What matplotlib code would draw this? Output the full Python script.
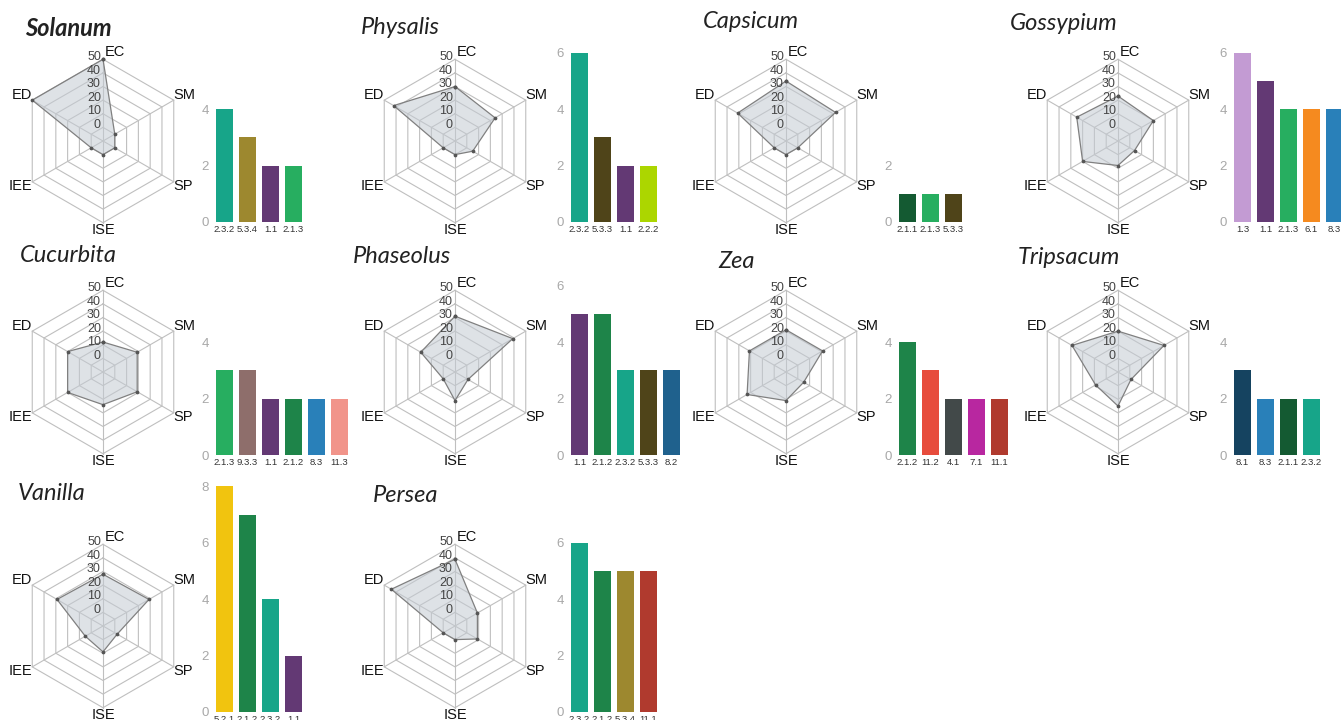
import matplotlib
matplotlib.use('Agg')
import matplotlib.pyplot as plt
import numpy as np

plt.rcParams['font.family'] = ['Liberation Sans', 'DejaVu Sans']

W, H = 1341, 720

# radar axes, clockwise from the top
spokes = ['EC', 'SM', 'SP', 'ISE', 'IEE', 'ED']
rings = [0, 10, 20, 30, 40, 50]

genera = ['Solanum', 'Physalis', 'Capsicum', 'Gossypium', 'Cucurbita',
          'Phaseolus', 'Zea', 'Tripsacum', 'Vanilla', 'Persea']

# radar scores (EC, SM, SP, ISE, IEE, ED)
solanum_radar = [50, 0, 0, 0, 0, 50]
physalis_radar = [30, 24, 5, 0, 0, 42]
capsicum_radar = [34, 32, 0, 0, 0, 31]
gossypium_radar = [23, 20, 4, 8, 20, 25]
cucurbita_radar = [12, 19, 19, 14, 20, 20]
phaseolus_radar = [31, 39, 1, 11, 0, 19]
zea_radar = [21, 21, 5, 11, 23, 21]
tripsacum_radar = [20, 29, 1, 15, 9, 29]
vanilla_radar = [28, 29, 2, 9, 5, 29]
persea_radar = [39, 9, 9, 0, 0, 44]

# bar charts: category codes and counts
solanum_codes = ['2.3.2', '5.3.4', '1.1', '2.1.3']
solanum_counts = [4, 3, 2, 2]
physalis_codes = ['2.3.2', '5.3.3', '1.1', '2.2.2']
physalis_counts = [6, 3, 2, 2]
capsicum_codes = ['2.1.1', '2.1.3', '5.3.3']
capsicum_counts = [1, 1, 1]
gossypium_codes = ['1.3', '1.1', '2.1.3', '6.1', '8.3']
gossypium_counts = [6, 5, 4, 4, 4]
cucurbita_codes = ['2.1.3', '9.3.3', '1.1', '2.1.2', '8.3', '11.3']
cucurbita_counts = [3, 3, 2, 2, 2, 2]
phaseolus_codes = ['1.1', '2.1.2', '2.3.2', '5.3.3', '8.2']
phaseolus_counts = [5, 5, 3, 3, 3]
zea_codes = ['2.1.2', '11.2', '4.1', '7.1', '11.1']
zea_counts = [4, 3, 2, 2, 2]
tripsacum_codes = ['8.1', '8.3', '2.1.1', '2.3.2']
tripsacum_counts = [3, 2, 2, 2]
vanilla_codes = ['5.2.1', '2.1.2', '2.3.2', '1.1']
vanilla_counts = [8, 7, 4, 2]
persea_codes = ['2.3.2', '2.1.2', '5.3.4', '11.1']
persea_counts = [6, 5, 5, 5]

# colour of each category code
code_colors = {
    '1.1': '#633974', '1.3': '#c39bd3', '2.1.1': '#145a32', '2.1.2': '#1e8449',
    '2.1.3': '#27ae60', '2.2.2': '#acd600', '2.3.2': '#17a589', '4.1': '#424949',
    '5.2.1': '#f1c40f', '5.3.3': '#4f4419', '5.3.4': '#9d882f', '6.1': '#f58a1f',
    '7.1': '#b827a0', '8.1': '#154360', '8.2': '#1f618d', '8.3': '#2980b9',
    '9.3.3': '#8e6e6b', '11.1': '#b03a2e', '11.2': '#e74c3c', '11.3': '#f1948a',
}

radars = [solanum_radar, physalis_radar, capsicum_radar, gossypium_radar,
          cucurbita_radar, phaseolus_radar, zea_radar, tripsacum_radar,
          vanilla_radar, persea_radar]
codes = [solanum_codes, physalis_codes, capsicum_codes, gossypium_codes,
         cucurbita_codes, phaseolus_codes, zea_codes, tripsacum_codes,
         vanilla_codes, persea_codes]
counts = [solanum_counts, physalis_counts, capsicum_counts, gossypium_counts,
          cucurbita_counts, phaseolus_counts, zea_counts, tripsacum_counts,
          vanilla_counts, persea_counts]

# layout in pixels
R = 81.7
col_cx = [103, 455, 786, 1118]
row_cy = [141, 372, 626]
bar_start = [216, 571, 899, 1234]
bar_base = [222, 455, 712]
bar_top = [6.3, 6.3, 8.2]
PPU = 28.2
PITCH = 23.0
title_pos = [(25, 29), (361, 28), (703, 22), (1010, 23), (20, 255),
             (353, 256), (718, 262), (1018, 257), (18, 493), (373, 495)]

# label placement for each spoke: ha, va, offset in points
spoke_style = [('left', 'center', (1.2, 5.5)), ('left', 'center', (0, 3.5)),
               ('left', 'center', (0, -3)), ('center', 'center', (0, -5.5)),
               ('right', 'center', (0, -3)), ('right', 'center', (0, 3.5))]


def px_box(left, top, w, h):
    return [left / W, 1 - (top + h) / H, w / W, h / H]


fig = plt.figure(figsize=(W / 100, H / 100), dpi=100)

theta = np.deg2rad(np.arange(0, 360, 60))
closed = np.append(theta, theta[0])

for i, name in enumerate(genera):
    row, col = divmod(i, 4)
    cx, cy = col_cx[col], row_cy[row]

    ax = fig.add_axes(px_box(cx - R, cy - R, 2 * R, 2 * R), projection='polar')
    ax.set_theta_offset(np.pi / 2)
    ax.set_theta_direction(-1)
    ax.set_ylim(-10, 50)
    ax.set_xticks([])
    ax.set_yticks([])
    ax.spines['polar'].set_visible(False)
    ax.patch.set_alpha(0)

    for r in rings:
        ax.plot(closed, [r] * 7, color='#bfbfbf', lw=0.8, zorder=1, clip_on=False)
    for t in theta:
        ax.plot([t, t], [-10, 50], color='#bfbfbf', lw=0.8, zorder=1, clip_on=False)

    vals = radars[i] + radars[i][:1]
    ax.fill(closed, vals, facecolor='#c4cbd3', alpha=0.55, zorder=2)
    ax.plot(closed, vals, color='#808080', lw=0.9, marker='o', ms=1.7,
            mfc='#555555', mec='#555555', zorder=3, clip_on=False)

    for r in rings:
        ax.annotate(str(r), (0, r), xytext=(-1.5, 1.7), textcoords='offset points',
                    ha='right', va='center', fontsize=9, color='#444444')
    for t, lab, (ha, va, off) in zip(theta, spokes, spoke_style):
        ax.annotate(lab, (t, 50), xytext=off, textcoords='offset points',
                    ha=ha, va=va, fontsize=10.5, color='#111111',
                    annotation_clip=False)

    # bar chart
    ymax = bar_top[row]
    h = ymax * PPU
    bx = fig.add_axes(px_box(bar_start[col] - 3.1, bar_base[row] - h, 6 * PITCH, h))
    n = len(codes[i])
    bx.bar(range(n), counts[i], width=0.73,
           color=[code_colors[c] for c in codes[i]])
    bx.set_xlim(-0.5, 5.5)
    bx.set_ylim(0, ymax)
    top = 2 * int(np.ceil(max(counts[i]) / 2))
    bx.set_yticks(range(0, top + 1, 2))
    bx.set_xticks(range(n))
    bx.set_xticklabels(codes[i], fontsize=6.8, color='#333333',
                       family=['Liberation Sans Narrow', 'Liberation Sans', 'DejaVu Sans'])
    bx.tick_params(axis='x', length=0, pad=2)
    bx.tick_params(axis='y', length=0, pad=3, labelsize=9.5, labelcolor='#a8a8a8')
    for s in bx.spines.values():
        s.set_visible(False)
    bx.patch.set_alpha(0)

    tx, ty = title_pos[i]
    fig.text(tx / W, 1 - ty / H, name, fontsize=17, style='italic',
             weight='bold' if i == 0 else 'normal', color='#222222',
             family=['Lato', 'DejaVu Sans'], ha='left', va='center')

fig.savefig('out.png', dpi=100)
